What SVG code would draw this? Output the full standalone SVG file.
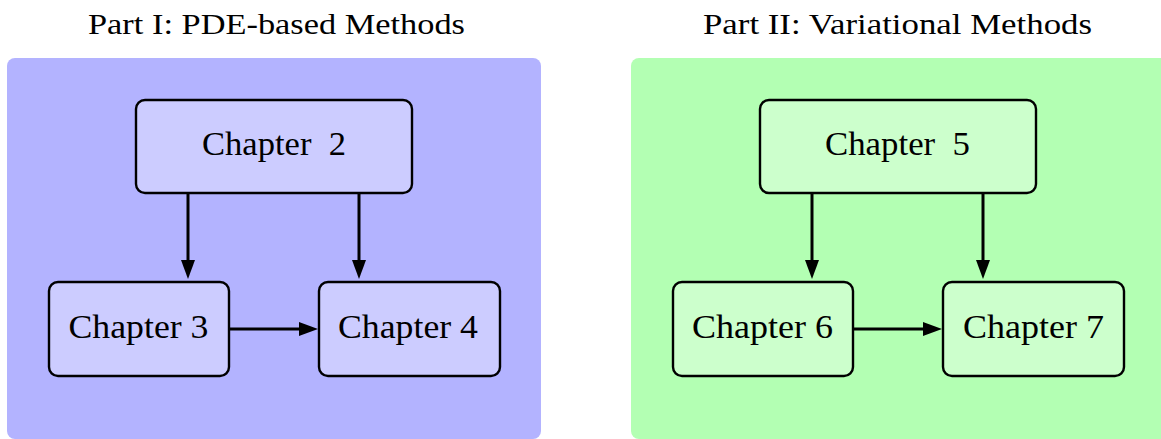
<svg xmlns="http://www.w3.org/2000/svg" width="1161" height="439" viewBox="0 0 1161 439">
  <style>
    .title { font-family: "Liberation Serif", "Times New Roman", serif; font-size: 29px; fill: #000; text-anchor: middle; }
    .label { font-family: "Liberation Serif", "Times New Roman", serif; font-size: 34.5px; fill: #000; text-anchor: middle; }
    .nodeA { fill: #ccccff; stroke: #000; stroke-width: 2.4; }
    .nodeB { fill: #ccffcc; stroke: #000; stroke-width: 2.4; }
    .edge { stroke: #000; stroke-width: 3; fill: none; marker-end: url(#arrow); }
  </style>
  <defs>
    <marker id="arrow" markerUnits="userSpaceOnUse" markerWidth="19" markerHeight="15" refX="8" refY="7" orient="auto">
      <path d="M0,0 L19,7 L0,14 z" fill="#000"/>
    </marker>
  </defs>
  <rect width="1161" height="439" fill="#ffffff"/>

  <g id="part1">
    <rect x="7" y="58" width="534" height="381" rx="8" fill="#b3b3ff"/>
    <text class="title" x="276.5" y="34" textLength="377" lengthAdjust="spacingAndGlyphs">Part I: PDE-based Methods</text>
  </g>
  <g id="part2">
    <rect x="631" y="58" width="540" height="381" rx="8" fill="#b3ffb3"/>
    <text class="title" x="897.5" y="34" textLength="389" lengthAdjust="spacingAndGlyphs">Part II: Variational Methods</text>
  </g>

  <g id="ch2">
    <rect class="nodeA" x="136" y="100" width="276" height="93" rx="9"/>
    <text class="label" x="274" y="155" textLength="144" lengthAdjust="spacingAndGlyphs" xml:space="preserve">Chapter  2</text>
  </g>
  <g id="ch3">
    <rect class="nodeA" x="49" y="282" width="180" height="94" rx="9"/>
    <text class="label" x="138.5" y="338" textLength="140" lengthAdjust="spacingAndGlyphs">Chapter 3</text>
  </g>
  <g id="ch4">
    <rect class="nodeA" x="319" y="282" width="181" height="94" rx="9"/>
    <text class="label" x="408" y="338" textLength="140" lengthAdjust="spacingAndGlyphs">Chapter 4</text>
  </g>

  <g id="ch5">
    <rect class="nodeB" x="760" y="100" width="276" height="93" rx="9"/>
    <text class="label" x="897.5" y="155" textLength="145" lengthAdjust="spacingAndGlyphs" xml:space="preserve">Chapter  5</text>
  </g>
  <g id="ch6">
    <rect class="nodeB" x="673" y="282" width="180" height="94" rx="9"/>
    <text class="label" x="762.5" y="338" textLength="141" lengthAdjust="spacingAndGlyphs">Chapter 6</text>
  </g>
  <g id="ch7">
    <rect class="nodeB" x="943" y="282" width="181" height="94" rx="9"/>
    <text class="label" x="1033.5" y="338" textLength="141" lengthAdjust="spacingAndGlyphs">Chapter 7</text>
  </g>

  <g id="connectors">
    <line class="edge" x1="188" y1="194" x2="188" y2="268"/>
    <line class="edge" x1="359" y1="194" x2="359" y2="268"/>
    <line class="edge" x1="230" y1="329" x2="307" y2="329"/>
    <line class="edge" x1="812" y1="194" x2="812" y2="268"/>
    <line class="edge" x1="983" y1="194" x2="983" y2="268"/>
    <line class="edge" x1="854" y1="329" x2="931" y2="329"/>
  </g>
</svg>
